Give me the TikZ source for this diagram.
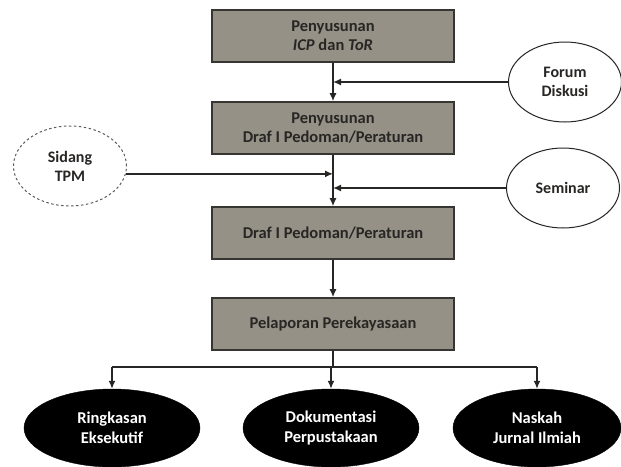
\documentclass[tikz,border=0pt]{standalone}
\usepackage{fontspec}
\setmainfont{Carlito}
\usetikzlibrary{shapes.geometric,arrows.meta}
\definecolor{boxfill}{RGB}{150,145,134}
\definecolor{boxline}{RGB}{55,53,50}
\definecolor{inkdark}{RGB}{40,38,36}
\tikzset{
  stagebox/.style={draw=boxline, line width=1.6pt, fill=boxfill, text=inkdark,
    minimum width=242pt, minimum height=52pt, align=center, inner sep=2pt,
    font=\bfseries\fontsize{16.5}{19}\selectfont},
  inputoval/.style={ellipse, draw=inkdark, line width=1pt, fill=white, text=inkdark,
    minimum width=113pt, minimum height=80pt, inner sep=0pt, align=center,
    font=\bfseries\fontsize{16}{19}\selectfont},
  outputoval/.style={ellipse, draw=black, fill=black, text=white,
    minimum width=176pt, minimum height=78pt, inner sep=0pt, align=center,
    font=\bfseries\fontsize{16.5}{19.5}\selectfont},
  flow/.style={draw=inkdark, line width=1.4pt, -{Latex[length=8pt,width=7pt]}},
  link/.style={draw=inkdark, line width=1.4pt},
}
\begin{document}
\begin{tikzpicture}[x=1pt,y=-1pt]
  \useasboundingbox (0,0) rectangle (621,466);

  % main sequence of stages
  \node[stagebox] (b1) at (333,36) {Penyusunan\\\textit{ICP} dan \textit{ToR}};
  \node[stagebox] (b2) at (333,128) {Penyusunan\\Draf I Pedoman/Peraturan};
  \node[stagebox] (b3) at (333,233) {Draf I Pedoman/Peraturan};
  \node[stagebox] (b4) at (333,324) {Pelaporan Perekayasaan};

  % inputs feeding the drafting steps
  \node[inputoval] (forum) at (565,82) {Forum\\Diskusi};
  \node[inputoval, dashed, dash pattern=on 2.5pt off 2.5pt, draw=inkdark!75] (sidang) at (70,166) {Sidang\\TPM};
  \node[inputoval] (seminar) at (563,188) {Seminar};

  % outputs of the reporting stage
  \node[outputoval] (ring) at (112,428) {Ringkasan\\Eksekutif};
  \node[outputoval] (dok) at (331,428) {Dokumentasi\\Perpustakaan};
  \node[outputoval, minimum width=168pt] (nas) at (537,428) {Naskah\\Jurnal Ilmiah};

  % vertical flow
  \draw[flow] (b1.south) -- (b2.north);
  \draw[flow] (b2.south) -- (b3.north);
  \draw[flow] (b3.south) -- (b4.north);

  % side inputs joining the flow
  \draw[flow] (forum.west) -- (forum.west -| b1.south);
  \draw[flow] (sidang.-8) -- (sidang.-8 -| b2.south);
  \draw[flow] (seminar.west) -- (seminar.west -| b2.south);

  % branching to the outputs
  \coordinate (hub) at (333,367);
  \draw[link] (b4.south) -- (hub);
  \draw[link] (hub -| ring.north) -- (hub -| nas.north);
  \draw[flow] (hub -| ring.north) -- (ring.north);
  \draw[flow] (hub) -- (hub -| dok.north) -- (dok.north);
  \draw[flow] (hub -| nas.north) -- (nas.north);
\end{tikzpicture}
\end{document}
